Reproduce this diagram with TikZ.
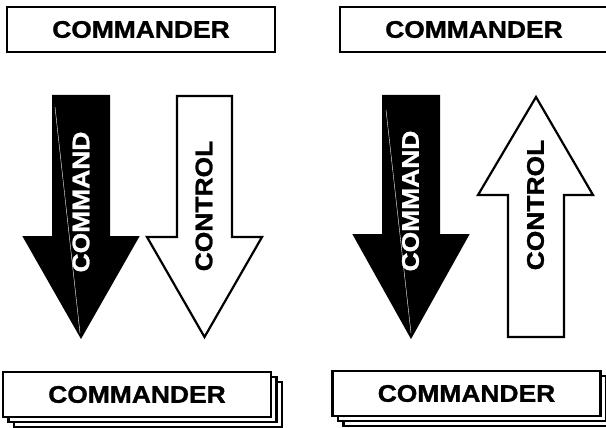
\documentclass[tikz,border=0pt]{standalone}
\usepackage{fontspec}
\setmainfont{Liberation Sans}
\newfontfamily\labelfont{Liberation Sans}[UprightFont=* Bold,FakeStretch=1.1,FakeBold=1.2]
\usetikzlibrary{shadows}

\tikzset{
	cmdbox/.style={draw, fill=white, line width=2.4pt, minimum width=268pt, minimum height=45pt, inner sep=0pt, font=\labelfont\fontsize{24}{24}\selectfont},
	stackbox/.style={cmdbox, double copy shadow={shadow xshift=5.5pt, shadow yshift=-5pt}},
	blkarrow/.style={draw=black, fill=black, line width=2pt, line join=miter},
	whtarrow/.style={draw=black, fill=white, line width=2.2pt, line join=miter},
	flowtext/.style={rotate=90, inner sep=0pt, font=\labelfont\fontsize{24}{24}\selectfont}
}

\begin{document}
\begin{tikzpicture}[x=1pt,y=-1pt]
	\useasboundingbox (0,0) rectangle (606,428);
	\clip (0,0) rectangle (606,428);
	%Draw commander boxes
	\node[cmdbox] (topL) at (141,29.5) {COMMANDER};
	\node[cmdbox] (topR) at (474,29.5) {COMMANDER};
	\node[stackbox] (botL) at (137,394.5) {COMMANDER};
	\node[stackbox] (botR) at (466.5,393.5) {COMMANDER};

	%Draw left arrows
	\draw[blkarrow] (53,96) -- (109,96) -- (109,237) -- (138,237) -- (81,337) -- (24,237) -- (53,237) -- cycle;
	\draw[white, line width=0.4pt] (55,107) -- (80,333);
	\draw[whtarrow] (177,96) -- (232,96) -- (232,237) -- (262,237) -- (204.5,337) -- (147,237) -- (177,237) -- cycle;
	%Draw right arrows
	\draw[blkarrow] (383,96) -- (439,96) -- (439,235) -- (468,235) -- (411,337) -- (354,235) -- (383,235) -- cycle;
	\draw[white, line width=0.4pt] (386,110) -- (411,333);
	\draw[whtarrow] (536,97) -- (593,195) -- (564,195) -- (564,337) -- (508,337) -- (508,195) -- (478,195) -- cycle;

	%Draw arrow labels
	\node[flowtext, white] (cmdL)  at (81,202)    {COMMAND};
	\node[flowtext]        (ctrlL) at (204,206)   {CONTROL};
	\node[flowtext, white] (cmdR)  at (410.5,201) {COMMAND};
	\node[flowtext]        (ctrlR) at (535.5,205) {CONTROL};
	%
\end{tikzpicture}
\end{document}
